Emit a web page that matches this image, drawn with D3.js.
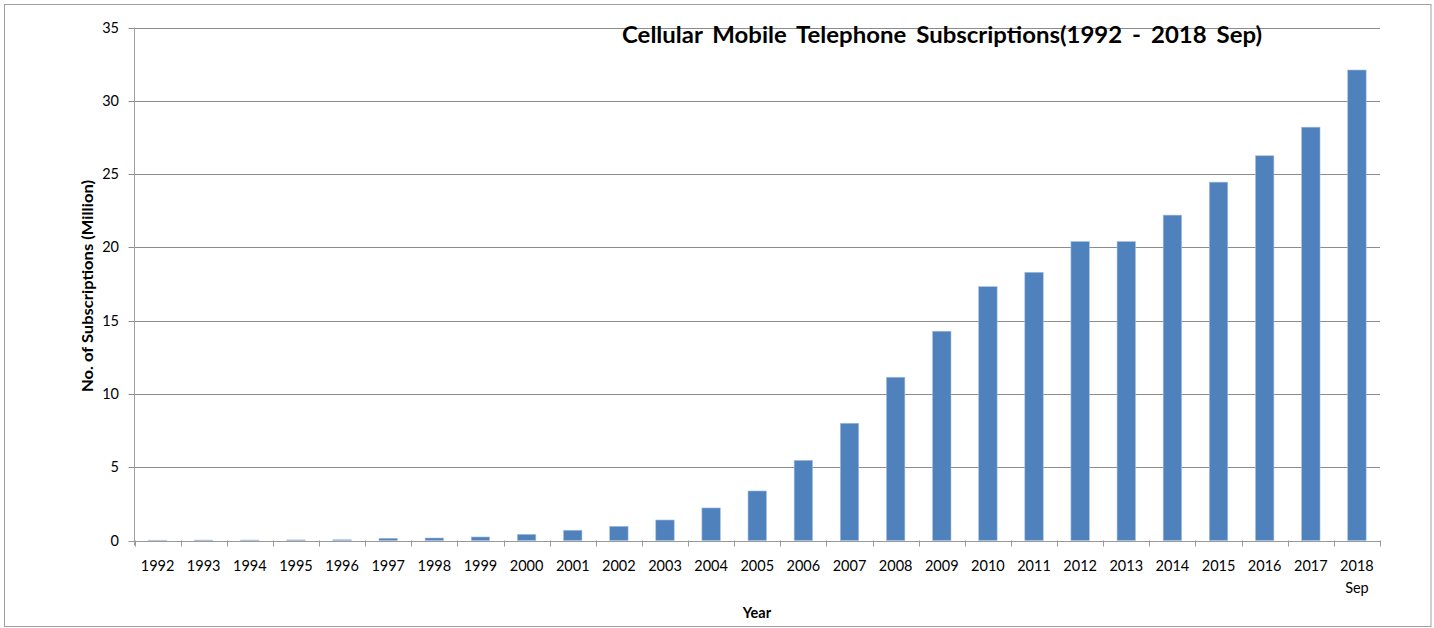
<!DOCTYPE html>
<html>
<head>
<meta charset="utf-8">
<script src="https://cdn.jsdelivr.net/npm/d3@7"></script>
<style>
  body { margin: 0; background: #fff; }
  text { font-family: Lato, "Open Sans", sans-serif; fill: #000; }
</style>
</head>
<body>
<div id="chart"></div>
<script>
// chart data
const years = ["1992", "1993", "1994", "1995", "1996", "1997", "1998", "1999", "2000",
    "2001", "2002", "2003", "2004", "2005", "2006", "2007", "2008", "2009", "2010",
    "2011", "2012", "2013", "2014", "2015", "2016", "2017", "2018 Sep"];
const subscriptions = [0.02, 0.03, 0.03, 0.04, 0.05, 0.15, 0.17, 0.24, 0.42,
    0.70, 0.97, 1.40, 2.22, 3.38, 5.47, 8.0, 11.14, 14.28, 17.32,
    18.3, 20.4, 20.4, 22.2, 24.45, 26.25, 28.2, 32.1];
const yTicks = [0, 5, 10, 15, 20, 25, 30, 35];

const W = 1434, H = 628;
const plotLeft = 134.5, plotRight = 1380, plotTop = 27.5, plotBottom = 540.5;

const svg = d3.select("#chart")
    .append("svg")
    .attr("width", W)
    .attr("height", H);

// outer frame
svg.append("rect")
    .attr("x", 4.5).attr("y", 4.5)
    .attr("width", 1426.5).attr("height", 622)
    .attr("fill", "#fff")
    .attr("stroke", "#a0a0a0");

const x = d3.scaleBand()
    .domain(years)
    .range([plotLeft, plotRight])
    .paddingInner(0.6)
    .paddingOuter(0.3);

const y = d3.scaleLinear()
    .domain([0, 35])
    .range([plotBottom, plotTop]);

// gridlines
svg.selectAll(".grid")
    .data(yTicks)
    .enter()
    .append("line")
    .attr("x1", plotLeft - 6)
    .attr("x2", plotRight)
    .attr("y1", d => Math.round(y(d)) + 0.5)
    .attr("y2", d => Math.round(y(d)) + 0.5)
    .attr("stroke", d => d === 0 ? "#999" : "#8c8c8c");

// y labels
svg.selectAll(".ylab")
    .data(yTicks)
    .enter()
    .append("text")
    .attr("x", 119)
    .attr("y", d => y(d) + 5)
    .attr("text-anchor", "end")
    .style("font-size", "14.5px")
    .text(d => d);

// y axis line
svg.append("line")
    .attr("x1", plotLeft).attr("x2", plotLeft)
    .attr("y1", plotTop).attr("y2", plotBottom + 5)
    .attr("stroke", "#a0a0a0");

// x tick marks at band edges
const step = x.step();
const edges = years.map(d => x(d) - x.paddingOuter() * step);
edges.push(plotRight);
svg.selectAll(".xtick")
    .data(edges)
    .enter()
    .append("line")
    .attr("x1", d => Math.round(d) + 0.5)
    .attr("x2", d => Math.round(d) + 0.5)
    .attr("y1", plotBottom)
    .attr("y2", plotBottom + 6)
    .attr("stroke", "#999");

// bars
svg.selectAll(".bar")
    .data(subscriptions)
    .enter()
    .append("rect")
    .attr("x", (d, i) => x(years[i]))
    .attr("y", d => y(d))
    .attr("width", x.bandwidth())
    .attr("height", d => plotBottom - y(d))
    .attr("fill", "#4f81bd")
    .attr("stroke", "#a9c2e2")
    .attr("stroke-width", 0.6);

// x labels
const xl = svg.selectAll(".xlab")
    .data(years)
    .enter()
    .append("text")
    .attr("x", d => x(d) + x.bandwidth() / 2)
    .attr("y", 571)
    .attr("text-anchor", "middle")
    .style("font-size", "14.5px");
xl.each(function(d) {
    const parts = d.split(" ");
    const t = d3.select(this);
    parts.forEach((p, i) => {
        t.append("tspan")
            .attr("x", x(d) + x.bandwidth() / 2)
            .attr("dy", i === 0 ? 0 : 22)
            .text(p);
    });
});

// axis titles
svg.append("text")
    .attr("x", 757)
    .attr("y", 618)
    .attr("text-anchor", "middle")
    .style("font-size", "14.5px")
    .style("font-weight", "bold")
    .text("Year");

svg.append("text")
    .attr("transform", "translate(93,286) rotate(-90)")
    .attr("text-anchor", "middle")
    .attr("textLength", 212)
    .attr("lengthAdjust", "spacingAndGlyphs")
    .style("font-size", "15px")
    .style("font-weight", "bold")
    .text("No. of Subscriptions (Million)");

// chart title
svg.append("text")
    .attr("x", 622)
    .attr("y", 43)
    .attr("textLength", 640)
    .attr("lengthAdjust", "spacingAndGlyphs")
    .style("font-size", "23px")
    .style("font-weight", "bold")
    .style("word-spacing", "4px")
    .text("Cellular Mobile Telephone Subscriptions(1992  - 2018 Sep)");
</script>
</body>
</html>
